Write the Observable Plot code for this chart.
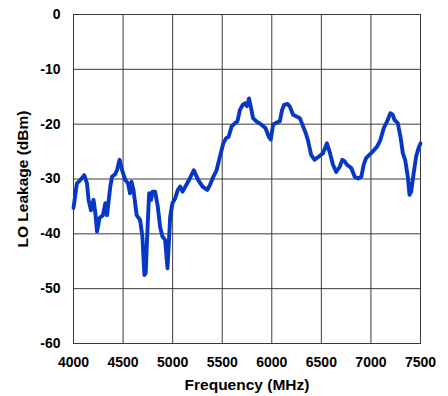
<!DOCTYPE html>
<html>
<head>
<meta charset="utf-8">
<script src="https://cdn.jsdelivr.net/npm/d3@7"></script>
<script src="https://cdn.jsdelivr.net/npm/@observablehq/plot@0.6"></script>
<style>
  html, body { margin: 0; padding: 0; background: #fff; }
  #chart { width: 448px; height: 396px; }
</style>
</head>
<body>
<div id="chart"></div>
<script>
const freqMHz = [4000,4034,4068,4108,4136,4152,4176,4202,4219,4237,4263,4297,4321,4338,4371,4388,4422,4439,4465,4490,4523,4550,4570,4585,4605,4637,4672,4695,4715,4728,4749,4763,4783,4796,4823,4850,4873,4897,4924,4948,4958,4975,4998,5026,5052,5076,5100,5140,5170,5214,5258,5302,5349,5376,5403,5443,5477,5511,5538,5565,5595,5629,5653,5679,5706,5730,5750,5770,5790,5811,5845,5896,5936,5970,5990,6013,6047,6081,6104,6124,6159,6182,6215,6250,6283,6316,6344,6364,6397,6432,6475,6516,6556,6583,6617,6650,6685,6711,6735,6758,6802,6836,6870,6903,6927,6951,6984,7018,7062,7095,7130,7163,7196,7221,7237,7271,7298,7322,7345,7372,7389,7406,7433,7456,7480,7500];
const leakageDbm = [-35.3,-30.8,-30.2,-29.3,-30.8,-33.8,-35.7,-33.8,-36,-39.6,-37.1,-36.6,-34.4,-36.6,-31.4,-29.6,-29.1,-28.4,-26.5,-28.4,-30.2,-30.8,-32.6,-30.5,-32,-36.6,-37.5,-40.5,-47.5,-47.2,-38,-32.6,-33.8,-32.3,-32.3,-35,-38.7,-40.5,-41.1,-46.3,-43,-36.9,-34.4,-33.5,-32,-31.4,-32.3,-31,-30,-28.4,-30.2,-31.4,-32,-31.1,-29.9,-28.4,-25.9,-23.5,-22.6,-22.3,-20.4,-19.8,-19.5,-17.4,-16.5,-16.2,-16.7,-15.3,-17,-18.9,-19.5,-20.1,-20.7,-22.3,-22.8,-20.1,-19.7,-19.5,-17.4,-16.5,-16.3,-16.8,-18.3,-18.6,-18.9,-20.4,-21.7,-22.9,-25.6,-26.5,-25.9,-25.3,-23.5,-25,-27.4,-28.7,-27.8,-26.5,-26.8,-27.4,-28,-29.6,-29.9,-29.6,-27.4,-26.2,-25.6,-25,-24.1,-22.9,-20.7,-19.5,-18,-18.3,-19.2,-19.8,-22.3,-25.3,-26.5,-29.6,-32.9,-32.3,-28.7,-25.9,-24.4,-23.5];
const xTicks = [4000,4500,5000,5500,6000,6500,7000,7500];
const yTicks = [0,-10,-20,-30,-40,-50,-60];
const xLabel = "Frequency (MHz)";
const yLabel = "LO Leakage (dBm)";

const data = freqMHz.map((f, i) => ({f, v: leakageDbm[i]}));

const chart = Plot.plot({
  width: 448,
  height: 396,
  marginLeft: 73,
  marginRight: 28,
  marginTop: 14,
  marginBottom: 53,
  style: {fontFamily: "'Liberation Sans', Arial, sans-serif", fontWeight: "bold", fontSize: "14px", color: "#000", background: "#fff"},
  x: {domain: [4000, 7500]},
  y: {domain: [-60, 0]},
  marks: [
    Plot.gridX(xTicks, {stroke: "#3a3a3a", strokeOpacity: 1, strokeWidth: 1}),
    Plot.gridY(yTicks, {stroke: "#3a3a3a", strokeOpacity: 1, strokeWidth: 1}),
    Plot.frame({stroke: "#3a3a3a", strokeWidth: 1}),
    Plot.line(data, {x: "f", y: "v", stroke: "#0638c4", strokeWidth: 3.9, strokeLinejoin: "round", strokeLinecap: "round"}),
    Plot.axisX({ticks: xTicks, tickFormat: d => String(d), tickSize: 0, tickPadding: 14, label: null, fontSize: 14}),
    Plot.axisY({ticks: yTicks, tickFormat: d => String(d), tickSize: 0, tickPadding: 13, label: null, fontSize: 14}),
    Plot.axisX({ticks: [], tickSize: 0, label: xLabel, labelAnchor: "center", labelArrow: "none", labelOffset: 46, fontSize: 15.5}),
    Plot.axisY({ticks: [], tickSize: 0, label: yLabel, labelAnchor: "center", labelArrow: "none", labelOffset: 57, fontSize: 15.5})
  ]
});
document.getElementById("chart").appendChild(chart);
</script>
</body>
</html>
